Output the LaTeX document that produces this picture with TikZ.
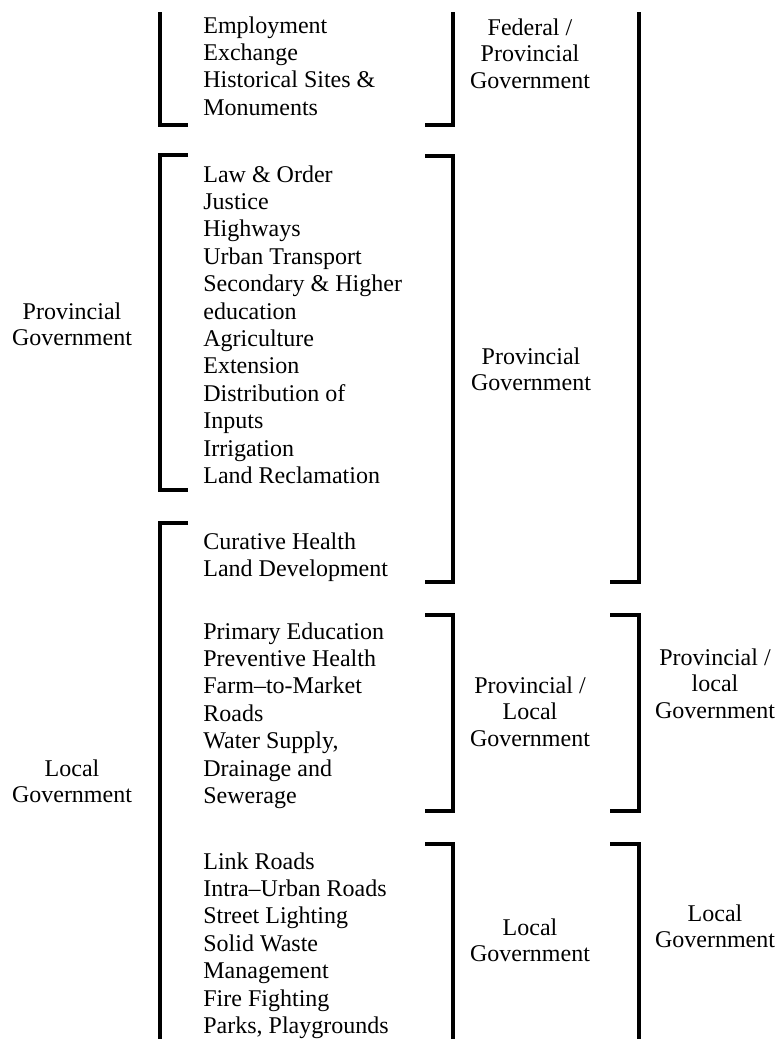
\documentclass[tikz,border=0pt]{standalone}
\usepackage{fontspec}
\setmainfont{Liberation Serif}
\usepackage{tikz}
\usetikzlibrary{positioning}
\tikzset{item/.style={anchor=north west,inner sep=0pt,align=left,font=\fontsize{12}{13.7}\selectfont,execute at begin node=\strut},
         lbl/.style={anchor=north,inner sep=0pt,align=center,font=\fontsize{12}{13.4}\selectfont,execute at begin node=\strut},
         brk/.style={line width=2.2pt,line join=miter}}

\begin{document}
\begin{tikzpicture}[x=0.5pt,y=-0.5pt]
    \useasboundingbox (0,0) rectangle (778,1039);

    \node[item] (emp) at (203,16) {Employment\\Exchange\\Historical Sites \&\\Monuments};
    \node[item] (law) at (203,165) {Law \& Order\\Justice\\Highways\\Urban Transport\\Secondary \& Higher\\education\\Agriculture\\Extension\\Distribution of\\Inputs\\Irrigation\\Land Reclamation};
    \node[item] (cur) at (203,532) {Curative Health\\Land Development};
    \node[item] (pri) at (203,622) {Primary Education\\Preventive Health\\Farm--to-Market\\Roads\\Water Supply,\\Drainage and\\Sewerage};
    \node[item] (lnk) at (203,852) {Link Roads\\Intra--Urban Roads\\Street Lighting\\Solid Waste\\Management\\Fire Fighting\\Parks, Playgrounds};

    \node[lbl] (lprov) at (72,302) {Provincial\\Government};
    \node[lbl] (lloc) at (72,759) {Local\\Government};
    \node[lbl] (mfed) at (530,18) {Federal /\\Provincial\\Government};
    \node[lbl] (mprov) at (531,347) {Provincial\\Government};
    \node[lbl] (mpl) at (530,676) {Provincial /\\Local\\Government};
    \node[lbl] (mloc) at (530,918) {Local\\Government};
    \node[lbl] (rpl) at (715,648) {Provincial /\\local\\Government};
    \node[lbl] (rloc) at (715,904) {Local\\Government};

    % left brackets
    \draw[brk] (160,12) -- (160,125) -- (188,125);
    \draw[brk] (188,155) -- (160,155) -- (160,490) -- (188,490);
    \draw[brk] (188,523) -- (160,523) -- (160,1039);
    % middle brackets
    \draw[brk] (453,12) -- (453,125) -- (425,125);
    \draw[brk] (425,156) -- (453,156) -- (453,582) -- (425,582);
    \draw[brk] (425,615) -- (453,615) -- (453,811) -- (425,811);
    \draw[brk] (425,844) -- (453,844) -- (453,1039);
    % right brackets
    \draw[brk] (639,12) -- (639,582) -- (610,582);
    \draw[brk] (610,615) -- (639,615) -- (639,811) -- (610,811);
    \draw[brk] (610,844) -- (639,844) -- (639,1039);
\end{tikzpicture}
\end{document}
